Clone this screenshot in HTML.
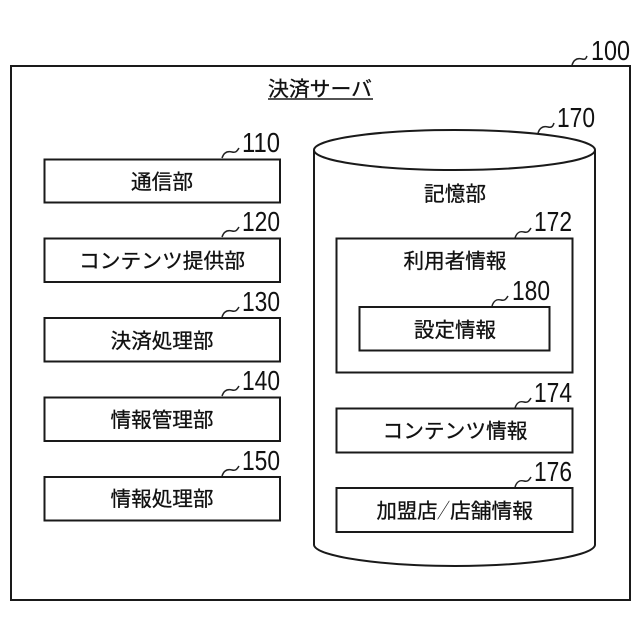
<!DOCTYPE html>
<html><head><meta charset="utf-8"><style>
html,body{margin:0;padding:0;background:#fff;width:640px;height:640px;overflow:hidden}
svg{display:block}
.b{fill:#fff;stroke:#1a1a1a;stroke-width:2}
.l{fill:none;stroke:#222;stroke-width:1.5}
.t{font-family:"Liberation Sans","Noto Sans CJK JP",sans-serif;font-size:20.5px;fill:#111;stroke:#111;stroke-width:.3;text-anchor:middle}
.n{font-family:"Liberation Sans",sans-serif;font-size:28px;fill:#111}
</style></head><body>
<svg width="640" height="640" viewBox="0 0 640 640" xmlns="http://www.w3.org/2000/svg">
<rect class="b" x="11" y="66" width="619" height="534"/>
<text class="t" x="320" y="96" textLength="104" lengthAdjust="spacingAndGlyphs">決済サーバ</text>
<line x1="268" y1="99" x2="373" y2="99" stroke="#1a1a1a" stroke-width="1.6"/>
<path class="l" d="M572 65c2-6 6-7 10-6s4-1 5-3"/>
<text class="n" x="591" y="60" textLength="39" lengthAdjust="spacingAndGlyphs">100</text>

<rect class="b" x="44.5" y="159.5" width="235.500" height="43"/>
<rect class="b" x="44.5" y="238.500" width="235.500" height="43.500"/>
<rect class="b" x="44.5" y="318" width="235.500" height="43.500"/>
<rect class="b" x="44.5" y="397.500" width="235.500" height="43.500"/>
<rect class="b" x="44.500" y="477" width="235.500" height="43.500"/>
<text class="t" x="162" y="189" textLength="62" lengthAdjust="spacingAndGlyphs">通信部</text>
<text class="t" x="162" y="268" textLength="166" lengthAdjust="spacingAndGlyphs">コンテンツ提供部</text>
<text class="t" x="162" y="348" textLength="103" lengthAdjust="spacingAndGlyphs">決済処理部</text>
<text class="t" x="162" y="427" textLength="103" lengthAdjust="spacingAndGlyphs">情報管理部</text>
<text class="t" x="162" y="506" textLength="103" lengthAdjust="spacingAndGlyphs">情報処理部</text>

<path class="l" d="M222 158c2-6 6-7 10-6s5-1 7-4"/>
<path class="l" d="M222 237c2-6 6-7 10-6s5-1 7-4"/>
<path class="l" d="M222 317c2-6 6-7 10-6s5-1 7-4"/>
<path class="l" d="M222 396c2-6 6-7 10-6s5-1 7-4"/>
<path class="l" d="M222 476c2-6 6-7 10-6s5-1 7-4"/>
<text class="n" x="242" y="152" textLength="38" lengthAdjust="spacingAndGlyphs">110</text>
<text class="n" x="242" y="231" textLength="38" lengthAdjust="spacingAndGlyphs">120</text>
<text class="n" x="242" y="311" textLength="38" lengthAdjust="spacingAndGlyphs">130</text>
<text class="n" x="242" y="390" textLength="38" lengthAdjust="spacingAndGlyphs">140</text>
<text class="n" x="242" y="470" textLength="38" lengthAdjust="spacingAndGlyphs">150</text>

<path class="b" d="M314 150V545C316 557 385 566 455 566S593 557 595 545V150"/>
<ellipse class="b" cx="454.500" cy="150" rx="140.500" ry="20"/>
<path class="l" d="M538 133c2-6 6-7 10-6s5-1 6-4"/>
<text class="n" x="557" y="127" textLength="38" lengthAdjust="spacingAndGlyphs">170</text>
<text class="t" x="455" y="201" textLength="62" lengthAdjust="spacingAndGlyphs">記憶部</text>

<rect class="b" x="336.500" y="238.500" width="236" height="134"/>
<path class="l" d="M515 238c2-6 5-7 9-6s5-1 7-4"/>
<text class="n" x="534" y="231" textLength="38" lengthAdjust="spacingAndGlyphs">172</text>
<text class="t" x="455" y="268" textLength="103" lengthAdjust="spacingAndGlyphs">利用者情報</text>

<rect class="b" x="359.500" y="307" width="190" height="43.500"/>
<path class="l" d="M492 306c2-6 5-7 9-6s5-1 7-4"/>
<text class="n" x="512" y="300" textLength="38" lengthAdjust="spacingAndGlyphs">180</text>
<text class="t" x="455" y="337" textLength="82" lengthAdjust="spacingAndGlyphs">設定情報</text>

<rect class="b" x="336.500" y="408.500" width="236" height="44"/>
<path class="l" d="M515 408c2-6 5-7 9-6s5-1 7-4"/>
<text class="n" x="534" y="402" textLength="38" lengthAdjust="spacingAndGlyphs">174</text>
<text class="t" x="455" y="438" textLength="145" lengthAdjust="spacingAndGlyphs">コンテンツ情報</text>

<rect class="b" x="336.500" y="488" width="236" height="44"/>
<path class="l" d="M515 487c2-6 5-7 9-6s5-1 7-4"/>
<text class="n" x="534" y="481" textLength="38" lengthAdjust="spacingAndGlyphs">176</text>
<text class="t" x="407" y="518" textLength="61" lengthAdjust="spacingAndGlyphs">加盟店</text>
<text class="t" x="443.500" y="518" textLength="13" lengthAdjust="spacingAndGlyphs" style="stroke:none">／</text>
<text class="t" x="491.500" y="518" textLength="83" lengthAdjust="spacingAndGlyphs">店舗情報</text>
</svg>
</body></html>
